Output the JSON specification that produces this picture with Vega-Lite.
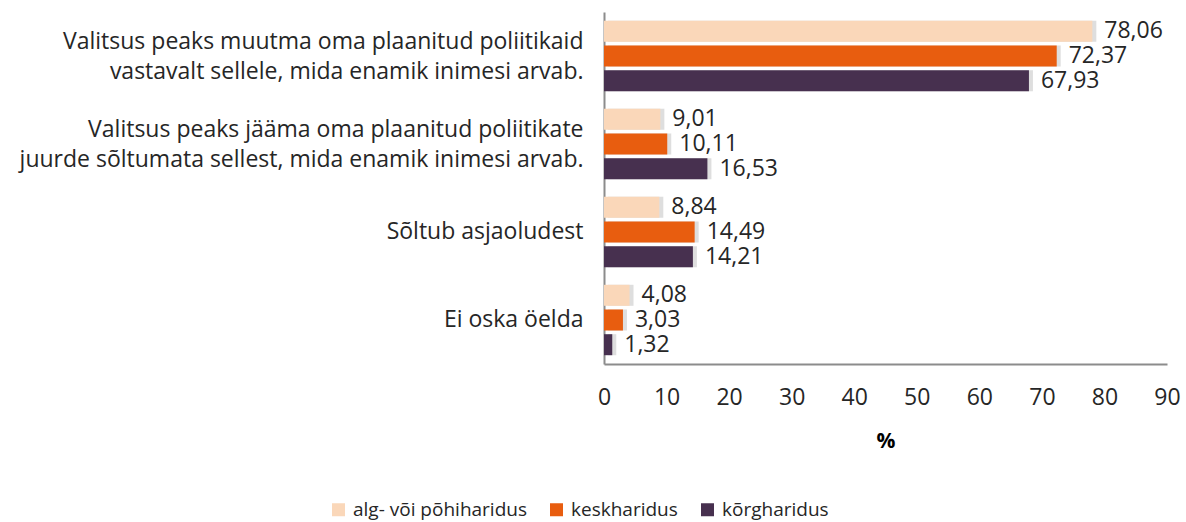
{
  "$schema": "https://vega.github.io/schema/vega-lite/v6.json",
  "width": 563,
  "height": 352,
  "autosize": {"type": "none"},
  "padding": {"left": 604, "top": 12, "right": 19, "bottom": 158},
  "background": "white",
  "config": {
    "view": {"stroke": null},
    "font": "Open Sans",
    "locale": {"number": {"decimal": ",", "thousands": " ", "grouping": [3], "currency": ["", " €"]}}
  },
  "data": {
    "values": [
      {"cat": "Valitsus peaks muutma oma plaanitud poliitikaid\nvastavalt sellele, mida enamik inimesi arvab.", "grp": "alg- või põhiharidus", "v": 78.06},
      {"cat": "Valitsus peaks muutma oma plaanitud poliitikaid\nvastavalt sellele, mida enamik inimesi arvab.", "grp": "keskharidus", "v": 72.37},
      {"cat": "Valitsus peaks muutma oma plaanitud poliitikaid\nvastavalt sellele, mida enamik inimesi arvab.", "grp": "kõrgharidus", "v": 67.93},
      {"cat": "Valitsus peaks jääma oma plaanitud poliitikate\njuurde sõltumata sellest, mida enamik inimesi arvab.", "grp": "alg- või põhiharidus", "v": 9.01},
      {"cat": "Valitsus peaks jääma oma plaanitud poliitikate\njuurde sõltumata sellest, mida enamik inimesi arvab.", "grp": "keskharidus", "v": 10.11},
      {"cat": "Valitsus peaks jääma oma plaanitud poliitikate\njuurde sõltumata sellest, mida enamik inimesi arvab.", "grp": "kõrgharidus", "v": 16.53},
      {"cat": "Sõltub asjaoludest", "grp": "alg- või põhiharidus", "v": 8.84},
      {"cat": "Sõltub asjaoludest", "grp": "keskharidus", "v": 14.49},
      {"cat": "Sõltub asjaoludest", "grp": "kõrgharidus", "v": 14.21},
      {"cat": "Ei oska öelda", "grp": "alg- või põhiharidus", "v": 4.08},
      {"cat": "Ei oska öelda", "grp": "keskharidus", "v": 3.03},
      {"cat": "Ei oska öelda", "grp": "kõrgharidus", "v": 1.32}
    ]
  },
  "encoding": {
    "y": {
      "field": "cat", "type": "nominal", "sort": null,
      "scale": {"paddingInner": 0.2, "paddingOuter": 0.1},
      "axis": {
        "title": null, "ticks": false, "domainColor": "#8c8c8c", "domainWidth": 2,
        "labelExpr": "split(datum.label, '\\n')",
        "labelFontSize": 23, "labelColor": "#262626", "labelPadding": 21,
        "labelLineHeight": 30, "labelLimit": 700,
        "labelOffset": {"condition": {"test": "indexof(datum.value, '\\n') >= 0", "value": -14}, "value": 0}
      }
    },
    "yOffset": {"field": "grp", "type": "nominal", "sort": null, "scale": {"paddingInner": 0.15}},
    "x": {
      "field": "v", "type": "quantitative",
      "scale": {"domain": [0, 90], "nice": false},
      "axis": {
        "title": "%", "titleFontSize": 21, "titleFontWeight": "bold", "titleColor": "#000000", "titlePadding": 21,
        "values": [0,10,20,30,40,50,60,70,80,90], "format": "d", "labelFlush": false,
        "grid": false, "ticks": false, "domainColor": "#8c8c8c", "domainWidth": 2,
        "labelFontSize": 23, "labelColor": "#262626", "labelPadding": 22
      }
    }
  },
  "layer": [
    {
      "mark": {"type": "bar", "color": "#7a7a7a", "opacity": 0.25, "xOffset": 4}
    },
    {
      "mark": {"type": "bar"},
      "encoding": {
        "color": {
          "field": "grp", "type": "nominal", "sort": null,
          "scale": {"domain": ["alg- või põhiharidus", "keskharidus", "kõrgharidus"], "range": ["#FAD7B9", "#E85D0F", "#47304F"]},
          "legend": {
            "title": null, "orient": "none", "direction": "horizontal",
            "legendX": -275, "legendY": 488,
            "symbolType": "square", "symbolSize": 169, "symbolStrokeWidth": 0,
            "labelFontSize": 19, "labelColor": "#262626", "columnPadding": 20, "labelOffset": 5, "labelLimit": 300
          }
        }
      }
    },
    {
      "mark": {"type": "text", "align": "left", "dx": 12, "fontSize": 23, "color": "#262626"},
      "encoding": {
        "text": {"field": "v", "type": "quantitative", "format": ".2f"}
      }
    }
  ]
}
